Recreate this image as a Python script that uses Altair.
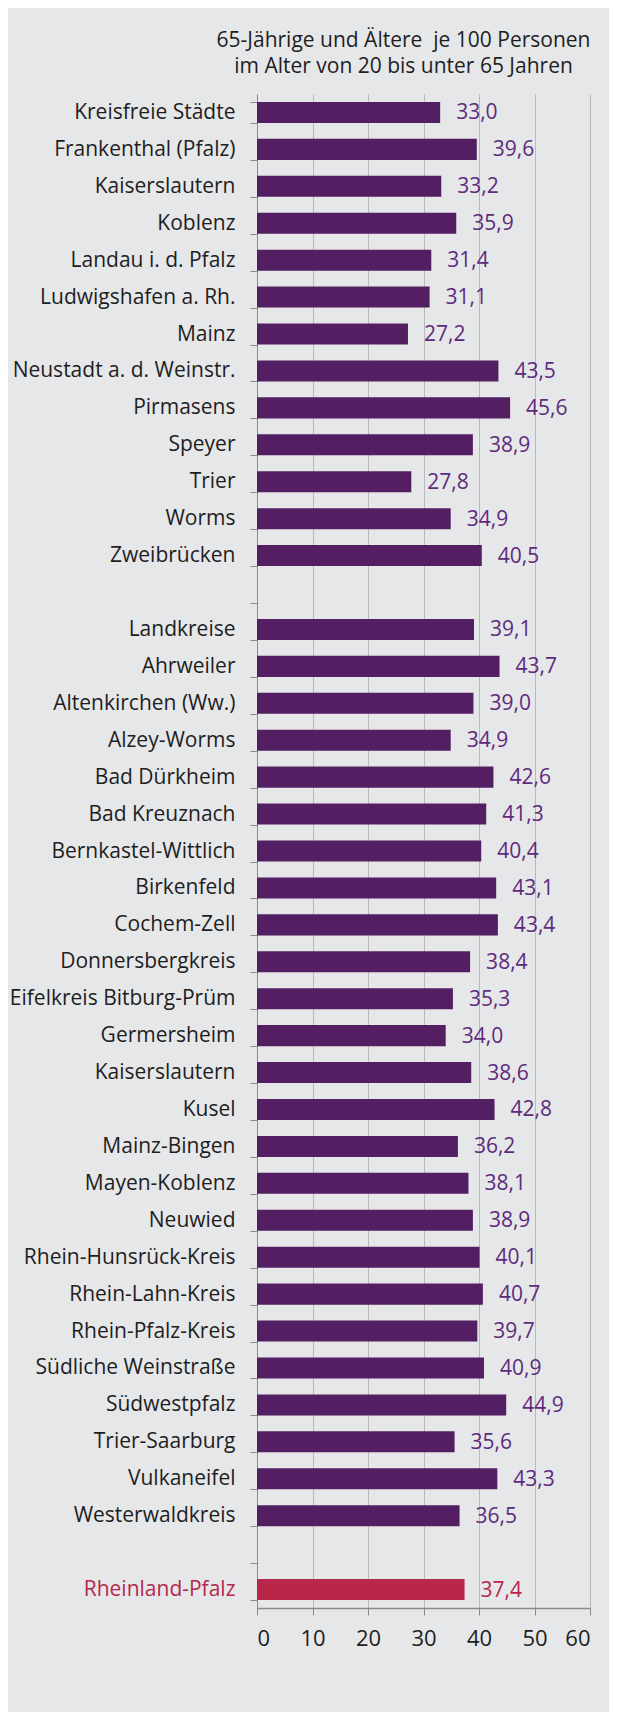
import json
import altair as alt
import pandas as pd

names = [
    "Kreisfreie Städte", "Frankenthal (Pfalz)", "Kaiserslautern", "Koblenz",
    "Landau i. d. Pfalz", "Ludwigshafen a. Rh.", "Mainz", "Neustadt a. d. Weinstr.",
    "Pirmasens", "Speyer", "Trier", "Worms", "Zweibrücken", "",
    "Landkreise", "Ahrweiler", "Altenkirchen (Ww.)", "Alzey-Worms", "Bad Dürkheim",
    "Bad Kreuznach", "Bernkastel-Wittlich", "Birkenfeld", "Cochem-Zell",
    "Donnersbergkreis", "Eifelkreis Bitburg-Prüm", "Germersheim", "Kaiserslautern",
    "Kusel", "Mainz-Bingen", "Mayen-Koblenz", "Neuwied", "Rhein-Hunsrück-Kreis",
    "Rhein-Lahn-Kreis", "Rhein-Pfalz-Kreis", "Südliche Weinstraße", "Südwestpfalz",
    "Trier-Saarburg", "Vulkaneifel", "Westerwaldkreis", "",
    "Rheinland-Pfalz",
]
values = [
    33.0, 39.6, 33.2, 35.9, 31.4, 31.1, 27.2, 43.5, 45.6, 38.9, 27.8, 34.9, 40.5, None,
    39.1, 43.7, 39.0, 34.9, 42.6, 41.3, 40.4, 43.1, 43.4, 38.4, 35.3, 34.0, 38.6,
    42.8, 36.2, 38.1, 38.9, 40.1, 40.7, 39.7, 40.9, 44.9, 35.6, 43.3, 36.5, None,
    37.4,
]
x_ticks = [0, 10, 20, 30, 40, 50, 60]
title_lines = ["65-Jährige und Ältere \u00a0je 100 Personen",
               "im Alter von 20 bis unter 65 Jahren"]

PURPLE = "#541e62"
PURPLE_TXT = "#5e2b7c"
RED = "#b8274a"
BG = "#e6e7e9"
FONT = "Open Sans"

rows = []
for i, (n, v) in enumerate(zip(names, values)):
    if v is None:
        continue
    rows.append({"idx": i, "name": n, "value": v,
                 "label": f"{v:.1f}".replace(".", ",")})
df = pd.DataFrame(rows)
last = len(names) - 1

label_expr = json.dumps(names, ensure_ascii=False) + "[datum.value]"

y_enc = alt.Y(
    "idx:O",
    scale=alt.Scale(domain=list(range(len(names))), paddingInner=0.43, paddingOuter=0.215),
    axis=alt.Axis(
        title=None, labelExpr=label_expr, tickBand="extent", ticks=True, tickSize=7,
        tickColor="#8a8a8a", domainColor="#8a8a8a", labelPadding=15, grid=False,
        labelFontSize=21, labelFont=FONT, labelLimit=400,
        labelColor={"condition": {"test": f"datum.value == {last}", "value": RED},
                    "value": "#1e1e1e"},
    ),
)
x_enc = alt.X(
    "value:Q",
    scale=alt.Scale(domain=[0, 60], nice=False),
    axis=alt.Axis(
        title=None, values=x_ticks, grid=True, gridColor="#b9b9b9", tickSize=7,
        tickColor="#8a8a8a", domainColor="#8a8a8a", domainWidth=1.5,
        labelFontSize=22, labelFont=FONT, labelColor="#1e1e1e", labelPadding=13,
    ),
)

base = alt.Chart(df)
bars = base.mark_bar().encode(
    x=x_enc, y=y_enc,
    color=alt.condition(f"datum.idx == {last}", alt.value(RED), alt.value(PURPLE)),
)
text = base.mark_text(align="left", baseline="middle", dx=16, dy=1, fontSize=21,
                      font=FONT).encode(
    x="value:Q", y=alt.Y("idx:O"), text="label:N",
    color=alt.condition(f"datum.idx == {last}", alt.value(RED), alt.value(PURPLE_TXT)),
)

chart = alt.layer(bars, text).properties(
    width=333, height=1514,
    autosize=alt.AutoSizeParams(type="none"),
    padding={"left": 249, "top": 86, "right": 19, "bottom": 104},
    background=BG,
    title=alt.TitleParams(text=title_lines, anchor="middle", frame="group", dx=-20,
                          fontSize=21, font=FONT, fontWeight="normal", color="#1e1e1e",
                          lineHeight=26, offset=6),
).configure_view(strokeOpacity=0)

chart.save("out.html", embed_options={"renderer": "svg", "actions": False})
